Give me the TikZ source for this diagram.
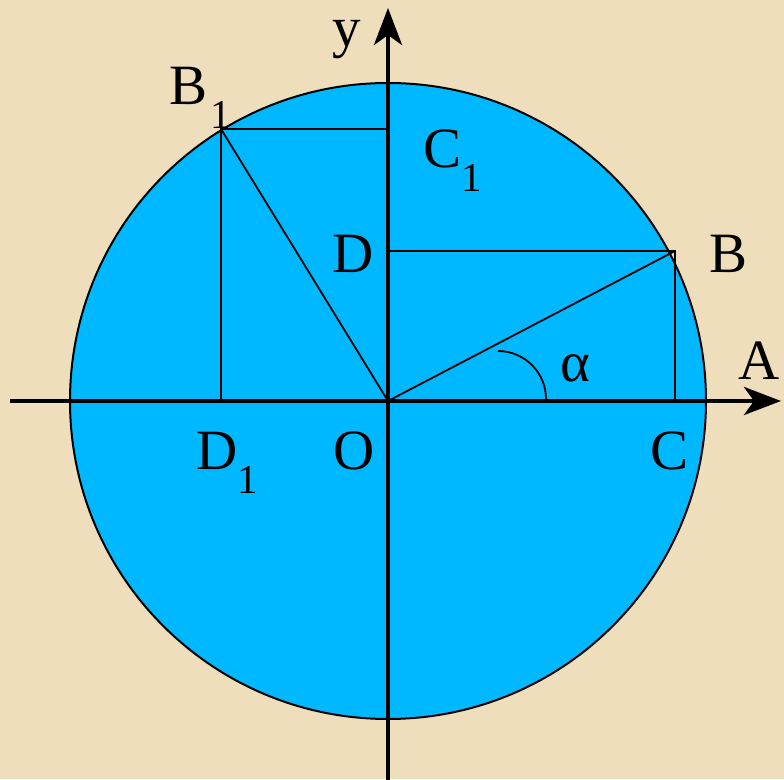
\documentclass[tikz,border=0pt]{standalone}
\usepackage{fontspec}
\setmainfont{Liberation Serif}
\usetikzlibrary{arrows.meta}
\definecolor{parchment}{RGB}{238,222,188}
\definecolor{discblue}{RGB}{0,184,255}
\newcommand{\idx}[1]{\raisebox{-24pt}{\fontsize{41}{41}\selectfont #1}}

\begin{document}
\begin{tikzpicture}[x=1pt,y=1pt,
  lbl/.style={inner sep=0pt, font=\fontsize{57}{68}\selectfont},
  axis/.style={line width=4.5pt, -{Stealth[length=37pt,width=28pt,inset=10pt]}},
  thinline/.style={line width=1.8pt}
]
\useasboundingbox (0,0) rectangle (784,779);
\fill[parchment] (0,0) rectangle (784,779);

% points of the unit circle picture
\coordinate (O) at (388,378);
\coordinate (B) at (675,528);
\coordinate (C) at (675,378);
\coordinate (D) at (388,528);
\coordinate (B1) at (221,650);
\coordinate (C1) at (388,650);
\coordinate (D1) at (221,378);
\coordinate (arcstart) at (498,428);

\filldraw[fill=discblue, draw=black, line width=2pt] (O) circle[radius=318];

\draw[thinline] (D) -- (B) -- (C);
\draw[thinline] (O) -- (B);
\draw[thinline] (C1) -- (B1) -- (D1);
\draw[thinline] (O) -- (B1);
\draw[thinline] (arcstart) arc[start angle=90, end angle=0, radius=48];

% axes
\coordinate (xleft) at (10,378);
\coordinate (xright) at (781,378);
\coordinate (ybottom) at (388,-5);
\coordinate (ytop) at (388,771);
\draw[axis] (xleft) -- (xright);
\draw[axis] (ybottom) -- (ytop);

% labels
\node[lbl, anchor=base] (ylbl) at (347,732) {y};
\node[lbl, anchor=base] (Albl) at (759,399) {A};
\node[lbl, anchor=base] (Blbl) at (728,506) {B};
\node[lbl, anchor=base] (Dlbl) at (353,506) {D};
\node[lbl, anchor=base] (Olbl) at (354,309) {O};
\node[lbl, anchor=base] (Clbl) at (669,309) {C};
\node[lbl, anchor=base] (alpha) at (575,397) {α};
\node[lbl, anchor=base west] (D1lbl) at (196,309) {D\idx{1}};
\node[lbl, anchor=base west] (B1lbl) at (169,674) {B\hspace{3pt}\idx{1}};
\node[lbl, anchor=base west] (C1lbl) at (423,611) {C\idx{1}};
\end{tikzpicture}
\end{document}
